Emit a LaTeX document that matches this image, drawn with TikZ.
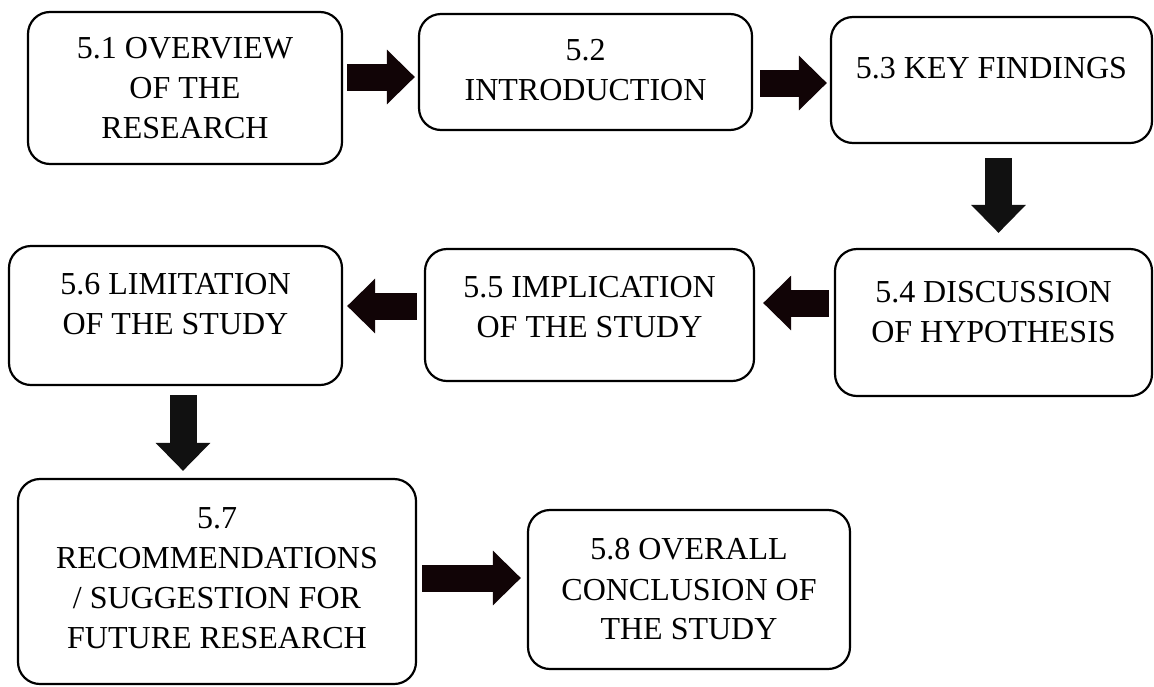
\documentclass[tikz,border=0pt]{standalone}
\usepackage{fontspec}
\setmainfont{Liberation Serif}
\definecolor{arrowdark}{HTML}{110406}
\definecolor{arrowgrey}{HTML}{111111}
\usetikzlibrary{arrows.meta}

\begin{document}
\begin{tikzpicture}[
						x=1pt, y=-1pt,
						box/.style={draw=black, line width=1.1pt, rounded corners=11pt},
						txt/.style={align=center, inner sep=0pt, font=\fontsize{16pt}{20pt}\selectfont},
						blockarrow/.style={draw=arrowdark, line width=13.5pt, -{Triangle[length=14pt, width=26.5pt]}},
						downarrow/.style={blockarrow, draw=arrowgrey}
					]
					\fill[white] (0,0) rectangle (577,343);
					\useasboundingbox (0,0) rectangle (577,343);

					% top row
					\node[box, minimum width=157pt, minimum height=76pt] (overview) at (92.5,44) {};
					\node[box, minimum width=166.5pt, minimum height=58pt] (intro) at (292.75,36) {};
					\node[box, minimum width=160.5pt, minimum height=63pt] (findings) at (495.75,40) {};
					\node[txt] (overviewtxt) at (overview.center) {5.1 OVERVIEW\\OF THE\\RESEARCH};
					\node[txt] (introtxt) at ([yshift=1pt]intro.center) {5.2\\INTRODUCTION};
					\node[txt] (findingstxt) at ([yshift=6pt]findings.center) {5.3 KEY FINDINGS};

					% middle row
					\node[box, minimum width=158.5pt, minimum height=73.5pt] (discussion) at (496.75,161.25) {};
					\node[box, minimum width=164.5pt, minimum height=66pt] (implication) at (294.75,157.5) {};
					\node[box, minimum width=166.5pt, minimum height=69.5pt] (limitation) at (87.75,157.75) {};
					\node[txt] (discussiontxt) at ([yshift=5pt]discussion.center) {5.4 DISCUSSION\\OF HYPOTHESIS};
					\node[txt] (implicationtxt) at ([yshift=4pt]implication.center) {5.5 IMPLICATION\\OF THE STUDY};
					\node[txt] (limitationtxt) at ([yshift=5.5pt]limitation.center) {5.6 LIMITATION\\OF THE STUDY};

					% bottom row
					\node[box, minimum width=199pt, minimum height=102.5pt] (recommendation) at (108.5,290.75) {};
					\node[box, minimum width=161pt, minimum height=79.5pt] (conclusion) at (344.5,294.75) {};
					\node[txt] (recommendationtxt) at ([yshift=1.5pt]recommendation.center) {5.7\\RECOMMENDATIONS\\/ SUGGESTION FOR\\FUTURE RESEARCH};
					\node[txt] (conclusiontxt) at (conclusion.center) {5.8 OVERALL\\CONCLUSION OF\\THE STUDY};

					% block arrows
					\coordinate (a12) at ([yshift=-2.5pt]intro.west);
					\coordinate (a23) at ([yshift=-1.5pt]findings.west);
					\coordinate (a34) at ([xshift=3.5pt]findings.south);
					\coordinate (a45) at ([yshift=6pt]implication.east);
					\coordinate (a56) at ([yshift=4.75pt]limitation.east);
					\coordinate (a67) at ([xshift=3.75pt]limitation.south);
					\coordinate (a78) at ([yshift=5.75pt]conclusion.west);

					\draw[blockarrow, shorten <=2pt, shorten >=1.5pt] (a12 -| overview.east) -- (a12);
					\draw[blockarrow, shorten <=3.5pt, shorten >=1.5pt] (a23 -| intro.east) -- (a23);
					\draw[downarrow, shorten <=7pt, shorten >=7.5pt] (a34) -- (a34 |- discussion.north);
					\draw[blockarrow, shorten <=2.5pt, shorten >=4pt] (a45 -| discussion.west) -- (a45);
					\draw[blockarrow, shorten <=3.5pt, shorten >=2pt] (a56 -| implication.west) -- (a56);
					\draw[downarrow, shorten <=4.5pt, shorten >=3.5pt] (a67) -- (a67 |- recommendation.north);
					\draw[blockarrow, shorten <=2.5pt, shorten >=3pt] (a78 -| recommendation.east) -- (a78);
				\end{tikzpicture}
\end{document}
